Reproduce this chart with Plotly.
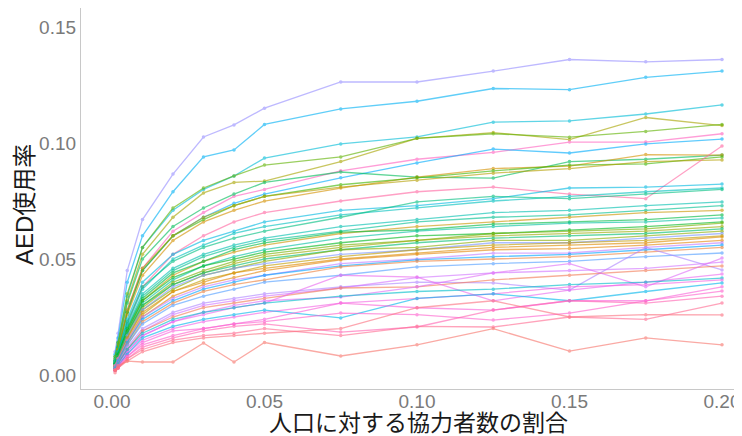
import math
import plotly.graph_objects as go

# x: ratio of volunteers to population
x_ratio = [0.001, 0.002, 0.005, 0.01, 0.02, 0.03, 0.04, 0.05, 0.075, 0.1, 0.125, 0.15, 0.175, 0.2]

# AED usage rate per region
line01 = [0.010, 0.018, 0.045, 0.067, 0.0866, 0.1026, 0.1078, 0.115, 0.1263, 0.1263, 0.131, 0.136, 0.135, 0.136]
line02 = [0.009, 0.016, 0.040, 0.060, 0.079, 0.094, 0.097, 0.108, 0.1147, 0.118, 0.1235, 0.123, 0.1283, 0.131]
line03 = [0.008, 0.014, 0.034, 0.055, 0.071, 0.080, 0.0858, 0.0935, 0.0996, 0.1026, 0.109, 0.1095, 0.1125, 0.1164]
line04 = [0.007, 0.013, 0.032, 0.052, 0.068, 0.0785, 0.083, 0.0836, 0.092, 0.102, 0.1045, 0.1015, 0.111, 0.1075]
line05 = [0.008, 0.014, 0.035, 0.055, 0.072, 0.0806, 0.0858, 0.0905, 0.094, 0.102, 0.104, 0.1025, 0.105, 0.108]
line06 = [0.006, 0.011, 0.028, 0.046, 0.062, 0.070, 0.077, 0.080, 0.088, 0.093, 0.096, 0.1004, 0.1004, 0.104]
line07 = [0.006, 0.010, 0.027, 0.045, 0.060, 0.068, 0.074, 0.078, 0.085, 0.0914, 0.0974, 0.0957, 0.0996, 0.1017]
line08 = [0.007, 0.012, 0.031, 0.050, 0.064, 0.072, 0.078, 0.083, 0.0875, 0.0853, 0.0849, 0.092, 0.093, 0.0948]
line09 = [0.005, 0.010, 0.026, 0.043, 0.058, 0.066, 0.071, 0.075, 0.0806, 0.0853, 0.089, 0.090, 0.095, 0.0948]
line10 = [0.006, 0.011, 0.027, 0.045, 0.060, 0.067, 0.073, 0.077, 0.082, 0.085, 0.088, 0.0905, 0.091, 0.094]
line11 = [0.006, 0.011, 0.028, 0.046, 0.060, 0.068, 0.073, 0.077, 0.081, 0.084, 0.087, 0.089, 0.092, 0.0927]
line12 = [0.005, 0.009, 0.022, 0.038, 0.052, 0.060, 0.066, 0.070, 0.075, 0.079, 0.081, 0.078, 0.076, 0.0987]
line13 = [0.006, 0.010, 0.024, 0.040, 0.052, 0.058, 0.062, 0.066, 0.071, 0.073, 0.076, 0.0806, 0.081, 0.0823]
line14 = [0.005, 0.009, 0.022, 0.037, 0.050, 0.056, 0.061, 0.064, 0.069, 0.072, 0.075, 0.077, 0.079, 0.0806]
line15 = [0.006, 0.010, 0.023, 0.038, 0.049, 0.055, 0.059, 0.062, 0.068, 0.0746, 0.077, 0.076, 0.078, 0.080]
line16 = [0.005, 0.009, 0.021, 0.035, 0.046, 0.052, 0.056, 0.059, 0.064, 0.067, 0.070, 0.071, 0.073, 0.0746]
line17 = [0.005, 0.009, 0.020, 0.034, 0.045, 0.051, 0.055, 0.058, 0.062, 0.066, 0.068, 0.069, 0.071, 0.073]
line18 = [0.004, 0.008, 0.019, 0.032, 0.043, 0.049, 0.053, 0.056, 0.061, 0.064, 0.066, 0.068, 0.070, 0.071]
line19 = [0.005, 0.009, 0.020, 0.033, 0.044, 0.049, 0.054, 0.057, 0.0616, 0.0625, 0.065, 0.066, 0.067, 0.069]
line20 = [0.004, 0.008, 0.018, 0.031, 0.041, 0.047, 0.051, 0.054, 0.059, 0.062, 0.064, 0.0655, 0.066, 0.0677]
line21 = [0.005, 0.009, 0.019, 0.032, 0.042, 0.047, 0.050, 0.053, 0.057, 0.060, 0.061, 0.0625, 0.064, 0.066]
line22 = [0.004, 0.008, 0.018, 0.030, 0.040, 0.045, 0.049, 0.052, 0.056, 0.058, 0.061, 0.062, 0.063, 0.0655]
line23 = [0.004, 0.007, 0.017, 0.029, 0.039, 0.044, 0.048, 0.051, 0.055, 0.058, 0.060, 0.061, 0.062, 0.064]
line24 = [0.005, 0.008, 0.018, 0.030, 0.039, 0.044, 0.047, 0.050, 0.054, 0.057, 0.059, 0.060, 0.061, 0.063]
line25 = [0.004, 0.007, 0.016, 0.028, 0.037, 0.043, 0.046, 0.049, 0.054, 0.055, 0.058, 0.058, 0.060, 0.062]
line26 = [0.004, 0.007, 0.017, 0.028, 0.038, 0.043, 0.046, 0.048, 0.052, 0.054, 0.057, 0.057, 0.059, 0.061]
line27 = [0.003, 0.006, 0.015, 0.026, 0.036, 0.041, 0.044, 0.047, 0.051, 0.054, 0.056, 0.057, 0.058, 0.060]
line28 = [0.004, 0.007, 0.016, 0.027, 0.036, 0.040, 0.044, 0.046, 0.050, 0.0525, 0.055, 0.056, 0.057, 0.0595]
line29 = [0.003, 0.006, 0.014, 0.025, 0.034, 0.039, 0.042, 0.045, 0.0496, 0.052, 0.054, 0.0545, 0.056, 0.058]
line30 = [0.004, 0.007, 0.015, 0.025, 0.033, 0.038, 0.041, 0.043, 0.048, 0.050, 0.0525, 0.0526, 0.055, 0.057]
line31 = [0.003, 0.006, 0.014, 0.024, 0.032, 0.037, 0.040, 0.043, 0.047, 0.0496, 0.051, 0.052, 0.054, 0.056]
line32 = [0.003, 0.005, 0.013, 0.023, 0.031, 0.036, 0.039, 0.041, 0.0466, 0.049, 0.050, 0.051, 0.053, 0.055]
line33 = [0.003, 0.006, 0.013, 0.022, 0.030, 0.034, 0.037, 0.040, 0.043, 0.0466, 0.048, 0.049, 0.051, 0.0526]
line34 = [0.003, 0.005, 0.012, 0.020, 0.027, 0.031, 0.033, 0.035, 0.038, 0.040, 0.0397, 0.0366, 0.055, 0.0453]
line35 = [0.003, 0.005, 0.011, 0.019, 0.026, 0.030, 0.032, 0.034, 0.0375, 0.042, 0.044, 0.045, 0.046, 0.0487]
line36 = [0.003, 0.005, 0.011, 0.019, 0.025, 0.029, 0.031, 0.033, 0.0375, 0.038, 0.041, 0.043, 0.045, 0.047]
line37 = [0.002, 0.004, 0.010, 0.017, 0.023, 0.027, 0.030, 0.032, 0.0336, 0.038, 0.044, 0.048, 0.038, 0.0504]
line38 = [0.003, 0.005, 0.010, 0.017, 0.023, 0.026, 0.029, 0.031, 0.043, 0.0422, 0.032, 0.0366, 0.040, 0.0435]
line39 = [0.003, 0.005, 0.011, 0.018, 0.024, 0.027, 0.029, 0.031, 0.034, 0.036, 0.037, 0.039, 0.040, 0.0418]
line40 = [0.002, 0.004, 0.009, 0.015, 0.020, 0.023, 0.025, 0.027, 0.031, 0.033, 0.035, 0.038, 0.039, 0.041]
line41 = [0.002, 0.004, 0.009, 0.016, 0.021, 0.024, 0.026, 0.028, 0.0246, 0.033, 0.035, 0.032, 0.036, 0.0397]
line42 = [0.002, 0.004, 0.008, 0.014, 0.019, 0.020, 0.022, 0.024, 0.031, 0.029, 0.028, 0.032, 0.032, 0.038]
line43 = [0.002, 0.003, 0.008, 0.013, 0.017, 0.020, 0.022, 0.023, 0.0267, 0.026, 0.0237, 0.0267, 0.032, 0.0362]
line44 = [0.002, 0.003, 0.007, 0.012, 0.016, 0.019, 0.021, 0.022, 0.0185, 0.0207, 0.028, 0.032, 0.031, 0.034]
line45 = [0.002, 0.003, 0.007, 0.011, 0.015, 0.017, 0.018, 0.020, 0.017, 0.021, 0.0207, 0.025, 0.024, 0.031]
line46 = [0.001, 0.003, 0.006, 0.010, 0.014, 0.016, 0.017, 0.018, 0.020, 0.029, 0.032, 0.025, 0.026, 0.0259]
line47 = [0.002, 0.004, 0.006, 0.0056, 0.0056, 0.0138, 0.0056, 0.014, 0.0082, 0.013, 0.020, 0.0103, 0.016, 0.013]

series = [line01, line02, line03, line04, line05, line06, line07, line08, line09, line10,
          line11, line12, line13, line14, line15, line16, line17, line18, line19, line20,
          line21, line22, line23, line24, line25, line26, line27, line28, line29, line30,
          line31, line32, line33, line34, line35, line36, line37, line38, line39, line40,
          line41, line42, line43, line44, line45, line46, line47]

# style: index into a 47-step ggplot hue palette
hue_index = [33, 28, 25, 9, 13, 42, 29, 17, 5, 14, 8, 44,
             26, 23, 19, 22, 20, 6, 16, 21, 15, 12, 10, 18, 11, 32, 7, 4, 3, 35, 30, 2, 31,
             34, 36, 1, 37, 38, 24, 39, 27, 40, 41, 43, 45, 46, 0]


def hcl_hex(h, c=100.0, l=65.0):
    hr = math.radians(h)
    u = c * math.cos(hr)
    v = c * math.sin(hr)
    Xn, Yn, Zn = 95.047, 100.0, 108.883
    Y = Yn * ((l + 16) / 116) ** 3
    den = Xn + 15 * Yn + 3 * Zn
    un, vn = 4 * Xn / den, 9 * Yn / den
    up = u / (13 * l) + un
    vp = v / (13 * l) + vn
    X = Y * 9 * up / (4 * vp)
    Z = Y * (12 - 3 * up - 20 * vp) / (4 * vp)
    X, Y, Z = X / 100, Y / 100, Z / 100
    rgb = [3.2404542 * X - 1.5371385 * Y - 0.4985314 * Z,
           -0.9692660 * X + 1.8760108 * Y + 0.0415560 * Z,
           0.0556434 * X - 0.2040259 * Y + 1.0572252 * Z]
    out = []
    for ch in rgb:
        ch = 12.92 * ch if ch <= 0.0031308 else 1.055 * (max(ch, 0) ** (1 / 2.4)) - 0.055
        ch = min(max(ch, 0), 1)
        out.append(round(ch * 255))
    return "#%02X%02X%02X" % tuple(out)


n = 47
palette = [hcl_hex(15 + 360 * i / n) for i in range(n)]

fig = go.Figure()
for vals, hi in zip(series, hue_index):
    col = palette[hi]
    fig.add_trace(go.Scatter(
        x=x_ratio, y=vals, mode="lines+markers",
        line=dict(color=col, width=1.3),
        marker=dict(color=col, size=3.5),
        opacity=0.62, showlegend=False, hoverinfo="skip"))

# page body adds an 8px offset; figure coordinates are window minus 8
W, H = 734, 428
L, B, T, R = 73, 47, 0, 0
pw, ph = W - L - R, H - T - B

tick_font = dict(family="Liberation Sans, Arial, sans-serif", size=19, color="#7a7a7a")
fig.update_layout(
    width=W, height=H,
    margin=dict(l=L, r=R, t=T, b=B, autoexpand=False),
    paper_bgcolor="white", plot_bgcolor="white",
    xaxis=dict(range=[-0.01016, -0.01016 + pw / 3050], tickvals=[0, 0.05, 0.1, 0.15, 0.2],
               ticktext=["0.00", "0.05", "0.10", "0.15", "0.20"],
               showgrid=False, zeroline=False, showline=True, linecolor="#c8c8c8",
               linewidth=1.2, ticks="", tickfont=tick_font, automargin=False,
               ticklabelstandoff=-5),
    yaxis=dict(range=[-0.00603, -0.00603 + ph / 2320], tickvals=[0, 0.05, 0.1, 0.15],
               ticktext=["0.00", "0.05", "0.10", "0.15"],
               showgrid=False, zeroline=False, showline=True, linecolor="#c8c8c8",
               linewidth=1.2, ticks="", tickfont=tick_font, automargin=False),
    annotations=[
        dict(text="人口に対する協力者数の割合", xref="paper", yref="paper",
             x=(410 - L) / pw, y=-(415 - (H - B)) / ph,
             xanchor="center", yanchor="middle", showarrow=False,
             font=dict(family="Liberation Sans, Noto Sans CJK JP, sans-serif", size=23, color="#1a1a1a")),
        dict(text="AED使用率", xref="paper", yref="paper", textangle=-90,
             x=-(L - 16) / pw, y=((H - B) - 197) / ph, xanchor="center", yanchor="middle",
             showarrow=False,
             font=dict(family="Liberation Sans, Noto Sans CJK JP, sans-serif", size=24, color="#1a1a1a")),
    ],
)

fig.write_html("out.html")
